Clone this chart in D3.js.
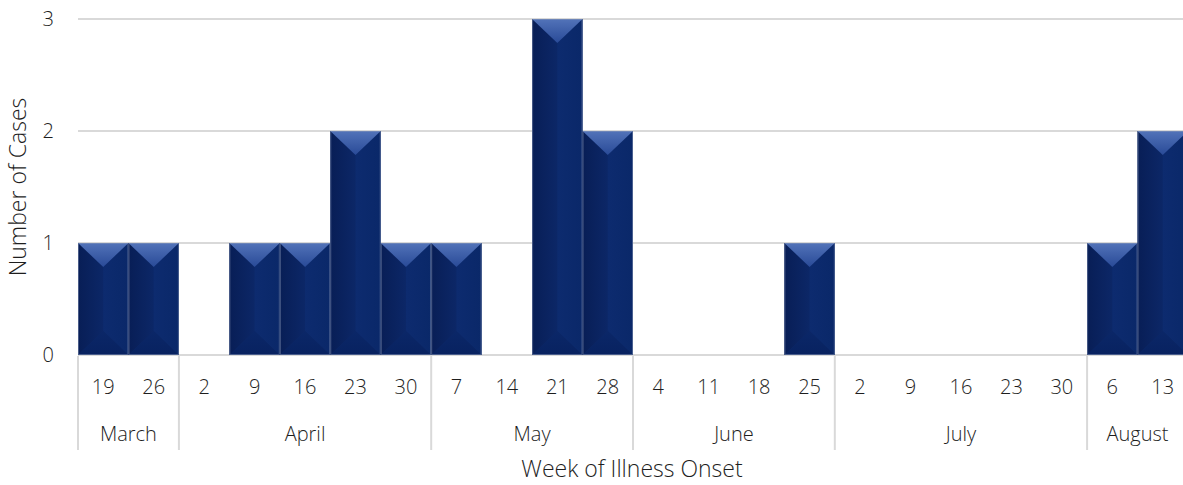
<!DOCTYPE html>
<html>
<head>
<meta charset="utf-8">
<script src="https://cdn.jsdelivr.net/npm/d3@7"></script>
<style>
  html, body { margin: 0; padding: 0; background: #fff; overflow: hidden; }
  svg { display: block; font-family: "Open Sans", "Segoe UI", sans-serif; font-weight: 300; }
</style>
</head>
<body>
<svg id="chart" width="1183" height="485"></svg>
<script>
// Weekly case counts by week of illness onset
const months = ["March", "April", "May", "June", "July", "August"];
const weekDays = [
  [19, 26],
  [2, 9, 16, 23, 30],
  [7, 14, 21, 28],
  [4, 11, 18, 25],
  [2, 9, 16, 23, 30],
  [6, 13]
];
const cases = [
  [1, 1],
  [0, 1, 1, 2, 1],
  [1, 0, 3, 2],
  [0, 0, 0, 1],
  [0, 0, 0, 0, 0],
  [1, 2]
];
const yTicks = [0, 1, 2, 3];

// Flatten into one row per week
const weeks = [];
months.forEach((m, mi) => {
  weekDays[mi].forEach((d, di) => {
    weeks.push({ month: m, monthIndex: mi, day: d, value: cases[mi][di], key: m + "-" + d });
  });
});

const svg = d3.select("#chart");
const W = 1183;
const plotLeft = 78, plotRight = 1188, plotTop = 19, plotBottom = 355;
const textColor = "#1e1e1e";

const x = d3.scaleBand()
  .domain(weeks.map(w => w.key))
  .range([plotLeft, plotRight])
  .padding(0);

const y = d3.scaleLinear()
  .domain([0, 3])
  .range([plotBottom, plotTop]);

const grid = "#d9d9d9";

// Horizontal gridlines
svg.append("g")
  .selectAll("line")
  .data(yTicks)
  .join("line")
  .attr("x1", plotLeft)
  .attr("x2", W)
  .attr("y1", d => y(d))
  .attr("y2", d => y(d))
  .attr("stroke", grid)
  .attr("stroke-width", 2);

// Y axis labels
svg.append("g")
  .selectAll("text")
  .data(yTicks)
  .join("text")
  .attr("x", 54)
  .attr("y", d => y(d))
  .attr("dy", "0.35em")
  .attr("text-anchor", "end")
  .attr("font-size", 20)
  .attr("fill", textColor)
  .text(d => d);

// Gradients for bevelled bars
const defs = svg.append("defs");
const topGrad = defs.append("linearGradient").attr("id", "topFacet")
  .attr("x1", 0).attr("y1", 0).attr("x2", 0).attr("y2", 1);
topGrad.append("stop").attr("offset", "0%").attr("stop-color", "#5273b9");
topGrad.append("stop").attr("offset", "100%").attr("stop-color", "#294a97");

const leftGrad = defs.append("linearGradient").attr("id", "leftFacet")
  .attr("x1", 0).attr("y1", 0).attr("x2", 1).attr("y2", 0);
leftGrad.append("stop").attr("offset", "0%").attr("stop-color", "#081e56");
leftGrad.append("stop").attr("offset", "100%").attr("stop-color", "#0c2767");

const rightGrad = defs.append("linearGradient").attr("id", "rightFacet")
  .attr("x1", 0).attr("y1", 0).attr("x2", 1).attr("y2", 0);
rightGrad.append("stop").attr("offset", "0%").attr("stop-color", "#0d2b6f");
rightGrad.append("stop").attr("offset", "100%").attr("stop-color", "#0a2869");

const botGrad = defs.append("linearGradient").attr("id", "bottomFacet")
  .attr("x1", 0).attr("y1", 0).attr("x2", 0).attr("y2", 1);
botGrad.append("stop").attr("offset", "0%").attr("stop-color", "#0b2768");
botGrad.append("stop").attr("offset", "100%").attr("stop-color", "#082260");

// Bars
const bars = svg.append("g")
  .selectAll("g")
  .data(weeks.filter(w => w.value > 0))
  .join("g");

bars.each(function (w) {
  const g = d3.select(this);
  const x0 = x(w.key), x1 = x0 + x.bandwidth(), xm = (x0 + x1) / 2;
  const y0 = y(w.value), y1 = y(0);
  const d = Math.min(x.bandwidth() / 2 - 1, 24);
  const pts = a => a.map(p => p.join(",")).join(" ");
  // base fill keeps facet seams from showing through
  g.append("rect").attr("x", x0).attr("y", y0).attr("width", x.bandwidth()).attr("height", y1 - y0).attr("fill", "#0b2766");
  g.append("polygon").attr("points", pts([[x0, y0], [xm, y0 + d], [xm, y1 - d], [x0, y1]])).attr("fill", "url(#leftFacet)");
  g.append("polygon").attr("points", pts([[x1, y0], [xm, y0 + d], [xm, y1 - d], [x1, y1]])).attr("fill", "url(#rightFacet)");
  g.append("polygon").attr("points", pts([[x0, y1], [x1, y1], [xm, y1 - d]])).attr("fill", "url(#bottomFacet)");
  g.append("polygon").attr("points", pts([[x0, y0], [x1, y0], [xm, y0 + d]])).attr("fill", "url(#topFacet)");
  g.append("rect")
    .attr("x", x0 + 0.5).attr("y", y0 + 0.5)
    .attr("width", x.bandwidth() - 1).attr("height", y1 - y0 - 1)
    .attr("fill", "none").attr("stroke", "#8a98b8").attr("stroke-opacity", 0.5);
});

// Week labels
svg.append("g")
  .selectAll("text")
  .data(weeks)
  .join("text")
  .attr("x", w => x(w.key) + x.bandwidth() / 2)
  .attr("y", 387)
  .attr("dy", "0.35em")
  .attr("text-anchor", "middle")
  .attr("font-size", 20)
  .attr("fill", textColor)
  .text(w => w.day);

// Month groups: separators and labels
const groups = months.map((m, mi) => {
  const ws = weeks.filter(w => w.monthIndex === mi);
  const start = x(ws[0].key);
  const end = x(ws[ws.length - 1].key) + x.bandwidth();
  return { month: m, start, end };
});

svg.append("g")
  .selectAll("line")
  .data(groups.map(g => g.start))
  .join("line")
  .attr("x1", d => d).attr("x2", d => d)
  .attr("y1", plotBottom + 1).attr("y2", 450)
  .attr("stroke", grid).attr("stroke-width", 2);

svg.append("g")
  .selectAll("text")
  .data(groups)
  .join("text")
  .attr("x", g => (g.start + g.end) / 2)
  .attr("y", 434)
  .attr("dy", "0.35em")
  .attr("text-anchor", "middle")
  .attr("font-size", 20)
  .attr("fill", textColor)
  .text(g => g.month);

// Axis titles
svg.append("text")
  .attr("transform", "translate(18," + ((plotTop + plotBottom) / 2) + ") rotate(-90)")
  .attr("text-anchor", "middle")
  .attr("dy", "0.35em")
  .attr("font-size", 23)
  .attr("fill", textColor)
  .text("Number of Cases");

svg.append("text")
  .attr("x", 632)
  .attr("y", 469)
  .attr("dy", "0.35em")
  .attr("text-anchor", "middle")
  .attr("font-size", 23)
  .attr("fill", textColor)
  .text("Week of Illness Onset");
</script>
</body>
</html>
